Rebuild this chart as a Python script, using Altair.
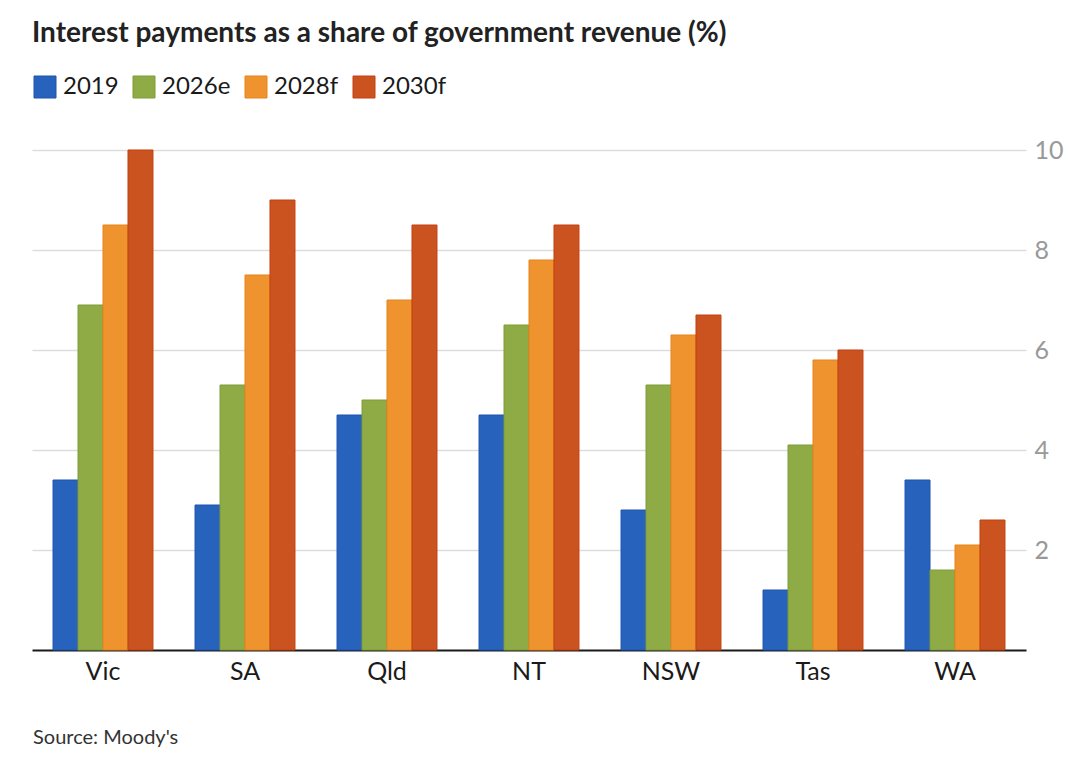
import altair as alt
import pandas as pd

# Interest payments as a share of revenue, by state
states = ["Vic", "SA", "Qld", "NT", "NSW", "Tas", "WA"]
series = ["2019", "2026e", "2028f", "2030f"]
v2019 = [3.4, 2.9, 4.7, 4.7, 2.8, 1.2, 3.4]
v2026e = [6.9, 5.3, 5.0, 6.5, 5.3, 4.1, 1.6]
v2028f = [8.5, 7.5, 7.0, 7.8, 6.3, 5.8, 2.1]
v2030f = [10.0, 9.0, 8.5, 8.5, 6.7, 6.0, 2.6]
y_ticks = [2, 4, 6, 8, 10]

fills = ["#2762bc", "#8fab45", "#ee932d", "#cb5320"]
edges = ["#1f55b0", "#7f9c3a", "#e8831c", "#c2410f"]

rows = []
for s, vals in zip(series, [v2019, v2026e, v2028f, v2030f]):
    for st, v in zip(states, vals):
        rows.append({"state": st, "series": s, "value": v})
df = pd.DataFrame(rows)

font = "Lato"

bars = alt.Chart(df).mark_bar(strokeWidth=1).encode(
    x=alt.X("state:N", sort=states,
            scale=alt.Scale(paddingInner=0.296, paddingOuter=0.148),
            axis=alt.Axis(title=None, labelAngle=0, labelFontSize=25,
                          labelColor="#1a1a1a", labelFont=font, labelPadding=9,
                          ticks=False, domainColor="#1a1a1a", domainWidth=2)),
    xOffset=alt.XOffset("series:N", sort=series,
                        scale=alt.Scale(paddingInner=0, paddingOuter=0)),
    y=alt.Y("value:Q", scale=alt.Scale(domain=[0, 10], nice=False),
            axis=alt.Axis(title=None, orient="right", values=y_ticks,
                          labelFontSize=25, labelColor="#999999", labelFont=font,
                          labelPadding=8, ticks=False, domain=False,
                          gridColor="#dddddd", gridWidth=1.5)),
    color=alt.Color("series:N", sort=series,
                    scale=alt.Scale(domain=series, range=fills),
                    legend=alt.Legend(title=None, orient="none", legendX=1,
                                      legendY=-75, direction="horizontal",
                                      symbolType="square", symbolSize=484,
                                      symbolStrokeWidth=1, labelFontSize=24,
                                      labelFont=font, labelColor="#1a1a1a",
                                      labelOffset=6, columnPadding=12)),
    stroke=alt.Stroke("series:N", sort=series,
                      scale=alt.Scale(domain=series, range=edges),
                      legend=None),
)

source = alt.Chart(pd.DataFrame({"t": ["Source: Moody's"]})).mark_text(
    align="left", baseline="alphabetic", fontSize=20, font=font, color="#333333"
).encode(text="t:N", x=alt.value(1), y=alt.value(594))

chart = alt.layer(bars, source).properties(
    width=994,
    height=500,
    autosize=alt.AutoSizeParams(type="none"),
    padding={"left": 32, "top": 150, "right": 54, "bottom": 114},
    title=alt.TitleParams(
        "Interest payments as a share of government revenue (%)",
        anchor="start", orient="top", font=font, fontSize=28,
        fontWeight="bold", color="#222222", offset=27,
    ),
).configure_view(stroke=None)

chart.save("out.html", embed_options={"renderer": "svg", "actions": False})
